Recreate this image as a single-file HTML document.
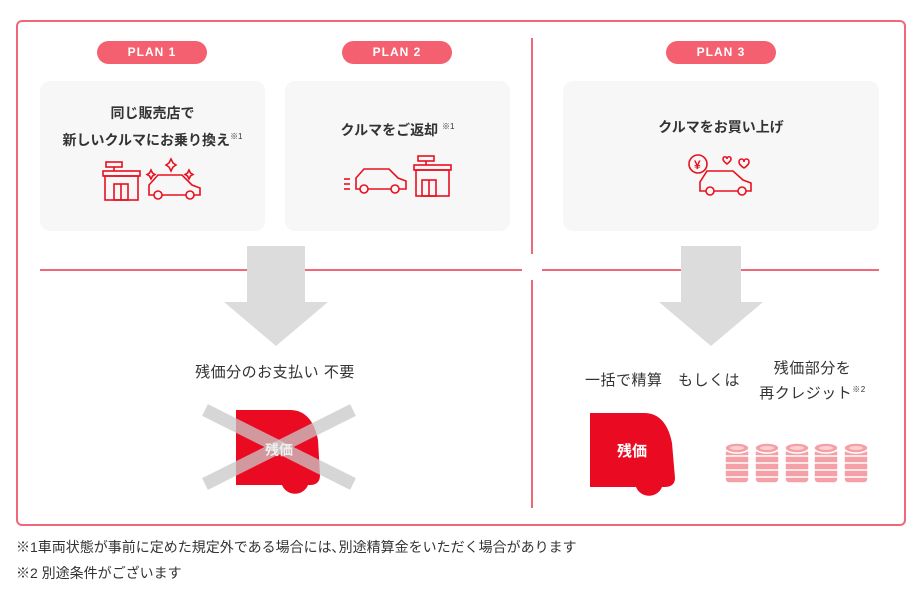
<!DOCTYPE html>
<html><head><meta charset="utf-8"><style>
body{margin:0;width:920px;height:590px;background:#fff;font-family:"Liberation Sans","Noto Sans CJK JP",sans-serif;color:#333;position:relative;overflow:hidden}
.a{position:absolute}
.pill{position:absolute;height:23px;width:110px;border-radius:12px;background:#f4606f;color:#fff;font-weight:bold;font-size:12px;letter-spacing:1px;text-align:center;line-height:23px}
.card{position:absolute;top:81px;height:150px;background:#f7f7f7;border-radius:10px}
.t{position:absolute;width:100%;text-align:center;font-weight:bold;font-size:14px;color:#333;line-height:24px}
sup{font-size:8px;font-weight:normal;vertical-align:6px}
</style></head><body>
<div class="a" style="left:16px;top:20px;width:886px;height:502px;border:2px solid #f06878;border-radius:6px"></div>
<div class="a" style="left:531px;top:38px;width:2px;height:216px;background:#f06878"></div>
<div class="a" style="left:531px;top:280px;width:2px;height:228px;background:#f06878"></div>
<div class="a" style="left:40px;top:269px;width:482px;height:2px;background:#f06878"></div>
<div class="a" style="left:542px;top:269px;width:337px;height:2px;background:#f06878"></div>

<div class="pill" style="left:97px;top:41px">PLAN 1</div>
<div class="pill" style="left:342px;top:41px">PLAN 2</div>
<div class="pill" style="left:666px;top:41px">PLAN 3</div>

<div class="card" style="left:40px;width:225px"><div class="t" style="top:20px">同じ販売店で<br>新しいクルマにお乗り換え<sup>※1</sup></div>
<svg class="a" style="left:62px;top:76px" width="104" height="46" fill="none" stroke="#e8101f" stroke-width="1.6">
<rect x="4" y="5" width="16" height="5"/><line x1="12" y1="10" x2="12" y2="14"/><rect x="1" y="14" width="37" height="5"/><rect x="3" y="19" width="33" height="24"/><rect x="12" y="27" width="14" height="16"/><line x1="19" y1="27" x2="19" y2="43"/>
<path d="M47 38 L47 28 L56 18 L80 18 L90 28 L98 31 L98 38 Z"/><circle cx="56" cy="38" r="4" fill="#f7f7f7"/><circle cx="88" cy="38" r="4" fill="#f7f7f7"/>
<path d="M69 2 l2 4 l3 2 l-3 2 l-2 4 l-2-4 l-3-2 l3-2z"/><path d="M87 13 l1.5 3 l2.5 1.5 l-2.5 1.5 l-1.5 3 l-1.5-3 l-2.5-1.5 l2.5-1.5z"/><path d="M49 13 l1.5 3 l2.5 1.5 l-2.5 1.5 l-1.5 3 l-1.5-3 l-2.5-1.5 l2.5-1.5z"/>
</svg></div>

<div class="card" style="left:285px;width:225px"><div class="t" style="top:34px">クルマをご返却 <sup>※1</sup></div>
<svg class="a" style="left:57px;top:73px" width="112" height="46" fill="none" stroke="#e8101f" stroke-width="1.6">
<line x1="2" y1="25" x2="8" y2="25"/><line x1="2" y1="30" x2="8" y2="30"/><line x1="2" y1="35" x2="8" y2="35"/>
<path d="M14 35 L14 24 L22 15 L47 15 L56 24 L64 27 L64 35 Z"/><circle cx="22" cy="35" r="4" fill="#f7f7f7"/><circle cx="53" cy="35" r="4" fill="#f7f7f7"/>
<rect x="76" y="2" width="16" height="5"/><line x1="84" y1="7" x2="84" y2="11"/><rect x="72" y="11" width="37" height="5"/><rect x="74" y="16" width="33" height="26"/><rect x="80" y="26" width="14" height="16"/><line x1="87" y1="26" x2="87" y2="42"/>
</svg></div>

<div class="card" style="left:563px;width:316px"><div class="t" style="top:34px">クルマをお買い上げ</div>
<svg class="a" style="left:124px;top:72px" width="72" height="44" fill="none" stroke="#e8101f" stroke-width="1.6">
<circle cx="11" cy="11" r="9"/><text x="7" y="16" font-size="12" fill="#e8101f" stroke="none" font-weight="bold">¥</text>
<path d="M13 38 L13 29 L20 18 L46 18 L56 27 L64 30 L64 38 Z"/><circle cx="23" cy="38" r="4" fill="#f7f7f7"/><circle cx="55" cy="38" r="4" fill="#f7f7f7"/>
<path d="M36 6 c0-3 4-3 4 0 c0-3 4-3 4 0 c0 2-4 5-4 5 c0 0-4-3-4-5z"/><path d="M52 9 c0-4 5-4 5 0 c0-4 5-4 5 0 c0 3-5 6-5 6 c0 0-5-3-5-6z"/>
</svg></div>

<svg class="a" style="left:0;top:0" width="920" height="590">
<path d="M247 246 H305 V302 H328 L276 346 L224 302 H247 Z" fill="#dcdcdc"/>
<path d="M681 246 H741 V302 H763 L711 346 L659 302 H681 Z" fill="#dcdcdc"/>
<path d="M236 410 H290 Q312 410 318 440 L320 475 Q320 485 310 485 H308 A14 14 0 0 1 282 485 H236 Z" fill="#ea0b22"/>
<g stroke="#c8c8c8" stroke-opacity="0.75" stroke-width="13"><line x1="205" y1="410" x2="353" y2="484"/><line x1="353" y1="410" x2="205" y2="484"/></g>
<text x="279" y="455" font-size="14" font-weight="bold" fill="#eee" text-anchor="middle" font-family="Liberation Sans,Noto Sans CJK JP,sans-serif">残価</text>
<path d="M590 413 H644 Q666 413 672 443 L675 478 Q675 487 664 487 H662 A14 14 0 0 1 636 487 H590 Z" fill="#ea0b22"/>
<text x="632" y="456" font-size="15" font-weight="bold" fill="#fff" text-anchor="middle" font-family="Liberation Sans,Noto Sans CJK JP,sans-serif">残価</text>
<g fill="#f4a0a6" stroke="#fff" stroke-width="1.5">
<g id="c"><rect x="725" y="449" width="24" height="34" rx="4"/><line x1="725" y1="456" x2="749" y2="456"/><line x1="725" y1="463" x2="749" y2="463"/><line x1="725" y1="470" x2="749" y2="470"/><line x1="725" y1="477" x2="749" y2="477"/><ellipse cx="737" cy="448" rx="12" ry="5"/><ellipse cx="737" cy="448" rx="7" ry="2" fill="#fbd0d3" stroke="none"/></g>
<use href="#c" x="30"/><use href="#c" x="60"/><use href="#c" x="89"/><use href="#c" x="119"/>
</g>
</svg>

<div class="a" style="left:170px;width:210px;text-align:center;top:361px;font-size:15px;letter-spacing:0.5px">残価分のお支払い 不要</div>
<div class="a" style="left:585px;top:369px;font-size:15px;letter-spacing:0.5px">一括で精算　もしくは</div>
<div class="a" style="left:745px;width:135px;text-align:center;top:358px;font-size:15px;line-height:21px;letter-spacing:0.5px">残価部分を<br>再クレジット<sup>※2</sup></div>

<div class="a" style="left:16px;top:537px;font-size:14px">※1車両状態が事前に定めた規定外である場合には､別途精算金をいただく場合があります</div>
<div class="a" style="left:16px;top:563px;font-size:14px">※2 別途条件がございます</div>
</body></html>
